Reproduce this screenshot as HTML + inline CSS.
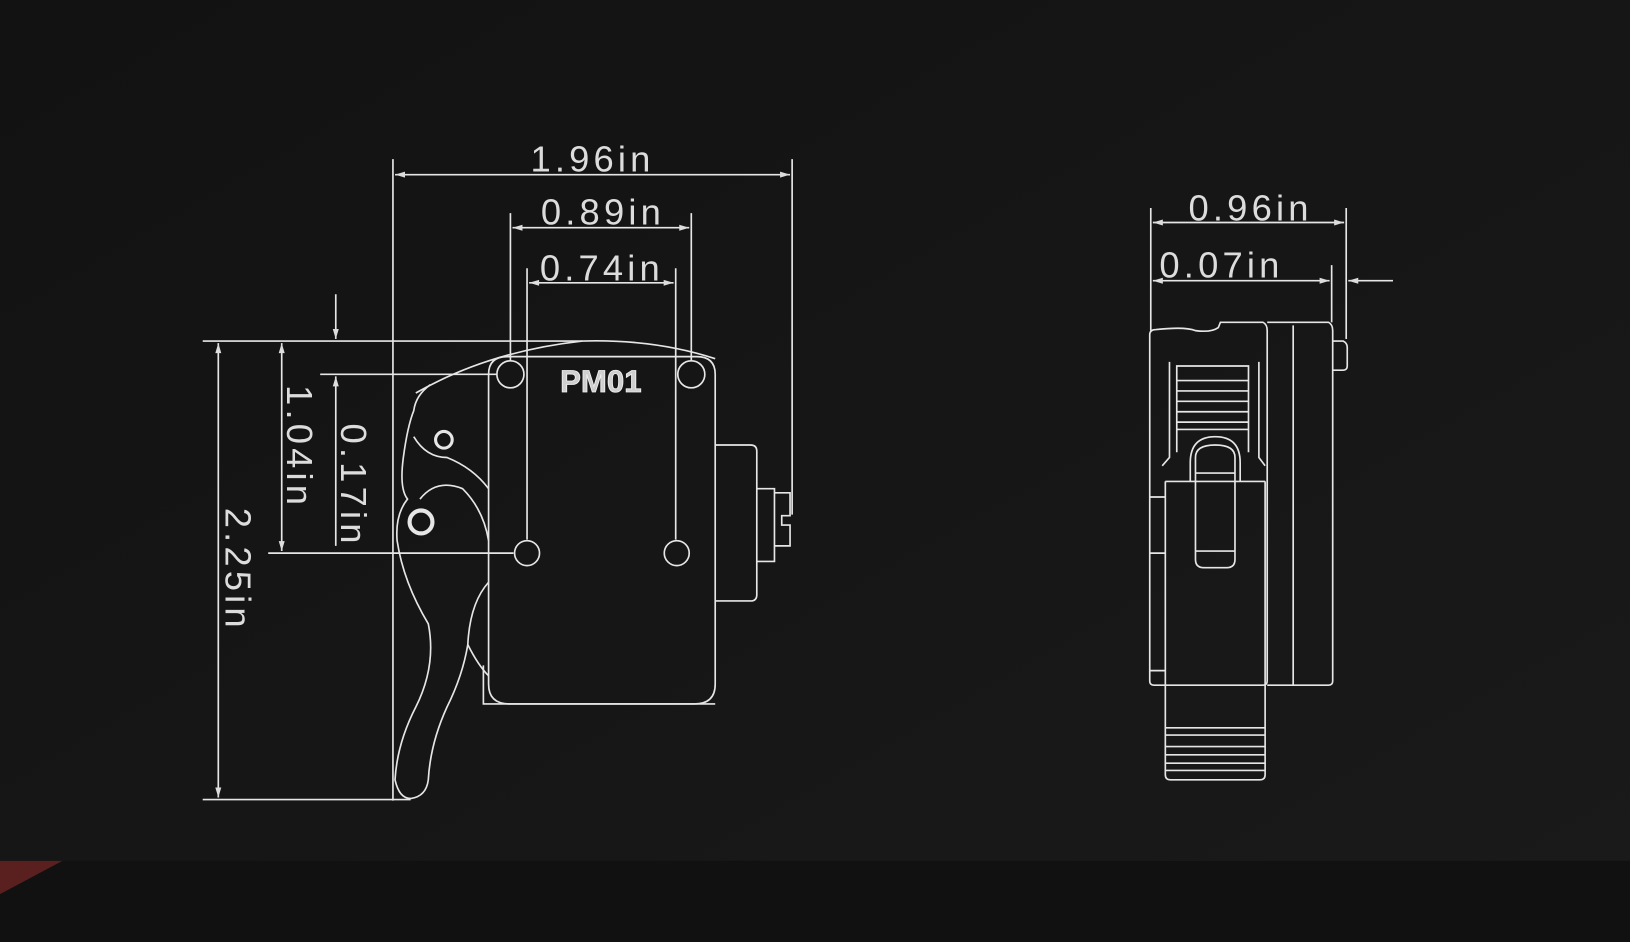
<!DOCTYPE html>
<html><head><meta charset="utf-8"><style>
html,body{margin:0;padding:0;background:#151515;}
svg{display:block}
text{font-family:"Liberation Sans",sans-serif;fill:#dcdcdc;font-size:35px;letter-spacing:4px}
</style></head><body>
<svg width="1630" height="942" viewBox="0 0 1568 906" preserveAspectRatio="none" xmlns="http://www.w3.org/2000/svg">
<defs>
<marker id="a" viewBox="0 0 10 10" refX="10" refY="5" markerWidth="9" markerHeight="6" orient="auto-start-reverse"><path d="M0,2 L10,5 L0,8z" fill="#ddd"/></marker>
<linearGradient id="bg" x1="0" y1="0" x2="1" y2="1"><stop offset="0" stop-color="#121212"/><stop offset="1" stop-color="#1a1a1a"/></linearGradient>
</defs>
<rect width="1568" height="906" fill="url(#bg)"/>
<rect y="828" width="1568" height="78" fill="#111"/>
<polygon points="0,828 60,828 0,860" fill="#5a1f1f"/>
<polygon points="60,828 400,650 0,860" fill="#2a1a1a" opacity="0.35"/>
<g stroke="#e6e6e6" stroke-width="1.6" fill="none">
<line x1="378" y1="153" x2="378" y2="770"/>
<line x1="762" y1="153" x2="762" y2="495"/>
<line x1="380" y1="168" x2="760" y2="168" marker-start="url(#a)" marker-end="url(#a)"/>
<line x1="491" y1="205" x2="491" y2="347"/>
<line x1="665" y1="205" x2="665" y2="347"/>
<line x1="493" y1="219" x2="663" y2="219" marker-start="url(#a)" marker-end="url(#a)"/>
<line x1="507" y1="258" x2="507" y2="519"/>
<line x1="650" y1="258" x2="650" y2="519"/>
<line x1="509" y1="272" x2="648" y2="272" marker-start="url(#a)" marker-end="url(#a)"/>
<line x1="195" y1="328" x2="560" y2="328"/>
<line x1="308" y1="360" x2="478" y2="360"/>
<line x1="258" y1="532" x2="494" y2="532"/>
<line x1="195" y1="769" x2="395" y2="769"/>
<line x1="210" y1="330" x2="210" y2="767" marker-start="url(#a)" marker-end="url(#a)"/>
<line x1="271" y1="330" x2="271" y2="530" marker-start="url(#a)" marker-end="url(#a)"/>
<line x1="323" y1="362" x2="323" y2="525" marker-start="url(#a)"/>
<line x1="323" y1="283" x2="323" y2="326" marker-end="url(#a)"/>
<path d="M470,360 Q470,343 488,343 L670,343 Q688,343 688,360 L688,658 Q688,677 668,677 L490,677 Q470,677 470,658 Z"/>
<path d="M465,640 L465,677 L688,677"/>
<path d="M400,378 Q470,338 560,328 Q630,326 688,345"/>
<circle cx="491" cy="360" r="13"/><circle cx="665" cy="360" r="13"/>
<circle cx="507" cy="532" r="12"/><circle cx="651" cy="532" r="12"/>
<path d="M688,428 L722,428 Q728,428 728,434 L728,572 Q728,578 722,578 L688,578"/>
<path d="M728,470 L745,470 L745,540 L728,540"/>
<path d="M745,474 L760,474 L760,496 L752,496 L752,505 L760,505 L760,525 L745,525"/>
<path d="M414,370 Q400,380 398,395 Q392,410 388,440 Q384,470 392,480 Q380,495 382,520 Q388,560 412,600 Q420,640 400,680 Q382,715 380,750 Q384,768 395,768 Q410,766 412,750 Q414,715 430,680 Q445,650 450,620 Q452,580 470,560"/>
<path d="M404,480 Q420,460 445,470 Q465,490 470,520"/>
<path d="M398,420 Q410,440 430,440 Q455,450 470,470"/>
<path d="M450,620 Q460,640 470,650"/>
<circle cx="427" cy="423" r="8" stroke-width="3"/>
<circle cx="405" cy="502" r="11" stroke-width="4"/>
<line x1="1107" y1="200" x2="1107" y2="318"/>
<line x1="1295" y1="200" x2="1295" y2="326"/>
<line x1="1109" y1="214" x2="1293" y2="214" marker-start="url(#a)" marker-end="url(#a)"/>
<line x1="1281" y1="255" x2="1281" y2="310"/>
<line x1="1109" y1="270" x2="1279" y2="270" marker-start="url(#a)" marker-end="url(#a)"/>
<line x1="1340" y1="270" x2="1297" y2="270" marker-end="url(#a)"/>
<path d="M1106,322 Q1106,317 1112,317 Q1140,314 1150,318 Q1165,320 1172,315 L1174,310 L1215,310 Q1219,312 1219,318 L1219,655 Q1219,659 1215,659 L1110,659 Q1106,659 1106,655 Z"/>
<path d="M1219,310 L1278,310 Q1282,312 1282,318 L1282,655 Q1282,659 1278,659 L1219,659"/>
<line x1="1244" y1="313" x2="1244" y2="659"/>
<path d="M1282,328 L1292,328 Q1296,330 1296,334 L1296,352 Q1296,356 1292,356 L1282,356"/>
<path d="M1121,463 L1121,745 Q1121,750 1126,750 L1212,750 Q1217,750 1217,745 L1217,463"/>
<path d="M1121,463 L1217,463"/>
<path d="M1125,348 L1125,440 L1118,448 M1211,348 L1211,440 L1217,448"/>
<path d="M1132,435 L1132,352 L1201,352 L1201,435"/>
<line x1="1132" y1="366" x2="1201" y2="366"/><line x1="1132" y1="376" x2="1201" y2="376"/>
<line x1="1132" y1="386" x2="1201" y2="386"/><line x1="1132" y1="396" x2="1201" y2="396"/>
<line x1="1132" y1="406" x2="1201" y2="406"/><line x1="1132" y1="413" x2="1201" y2="413"/>
<path d="M1150,440 Q1150,428 1169,428 Q1188,428 1188,440 L1188,538 Q1188,546 1180,546 L1158,546 Q1150,546 1150,538 Z"/>
<path d="M1145,463 L1145,445 Q1145,420 1169,420 Q1193,420 1193,445 L1193,463"/>
<line x1="1150" y1="455" x2="1188" y2="455"/><line x1="1150" y1="530" x2="1188" y2="530"/>
<path d="M1106,478 L1121,478 M1106,532 L1121,532 M1106,645 L1121,645"/>
<line x1="1121" y1="700" x2="1217" y2="700"/><line x1="1121" y1="707" x2="1217" y2="707"/>
<line x1="1121" y1="718" x2="1217" y2="718"/><line x1="1121" y1="726" x2="1217" y2="726"/>
<line x1="1121" y1="734" x2="1217" y2="734"/><line x1="1121" y1="741" x2="1217" y2="741"/>
</g>
<text x="570" y="165" text-anchor="middle">1.96in</text>
<text x="580" y="216" text-anchor="middle">0.89in</text>
<text x="579" y="270" text-anchor="middle">0.74in</text>
<text x="1203" y="212" text-anchor="middle">0.96in</text>
<text x="1175" y="267" text-anchor="middle">0.07in</text>
<text transform="translate(217,548) rotate(90)" text-anchor="middle">2.25in</text>
<text transform="translate(276,430) rotate(90)" text-anchor="middle">1.04in</text>
<text transform="translate(328,467) rotate(90)" text-anchor="middle">0.17in</text>
<text x="578" y="377" text-anchor="middle" style="font-size:30px;font-weight:bold;fill:#cfcfcf;stroke:#f0f0f0;stroke-width:0.8px;letter-spacing:0">PM01</text>
</svg>
</body></html>
